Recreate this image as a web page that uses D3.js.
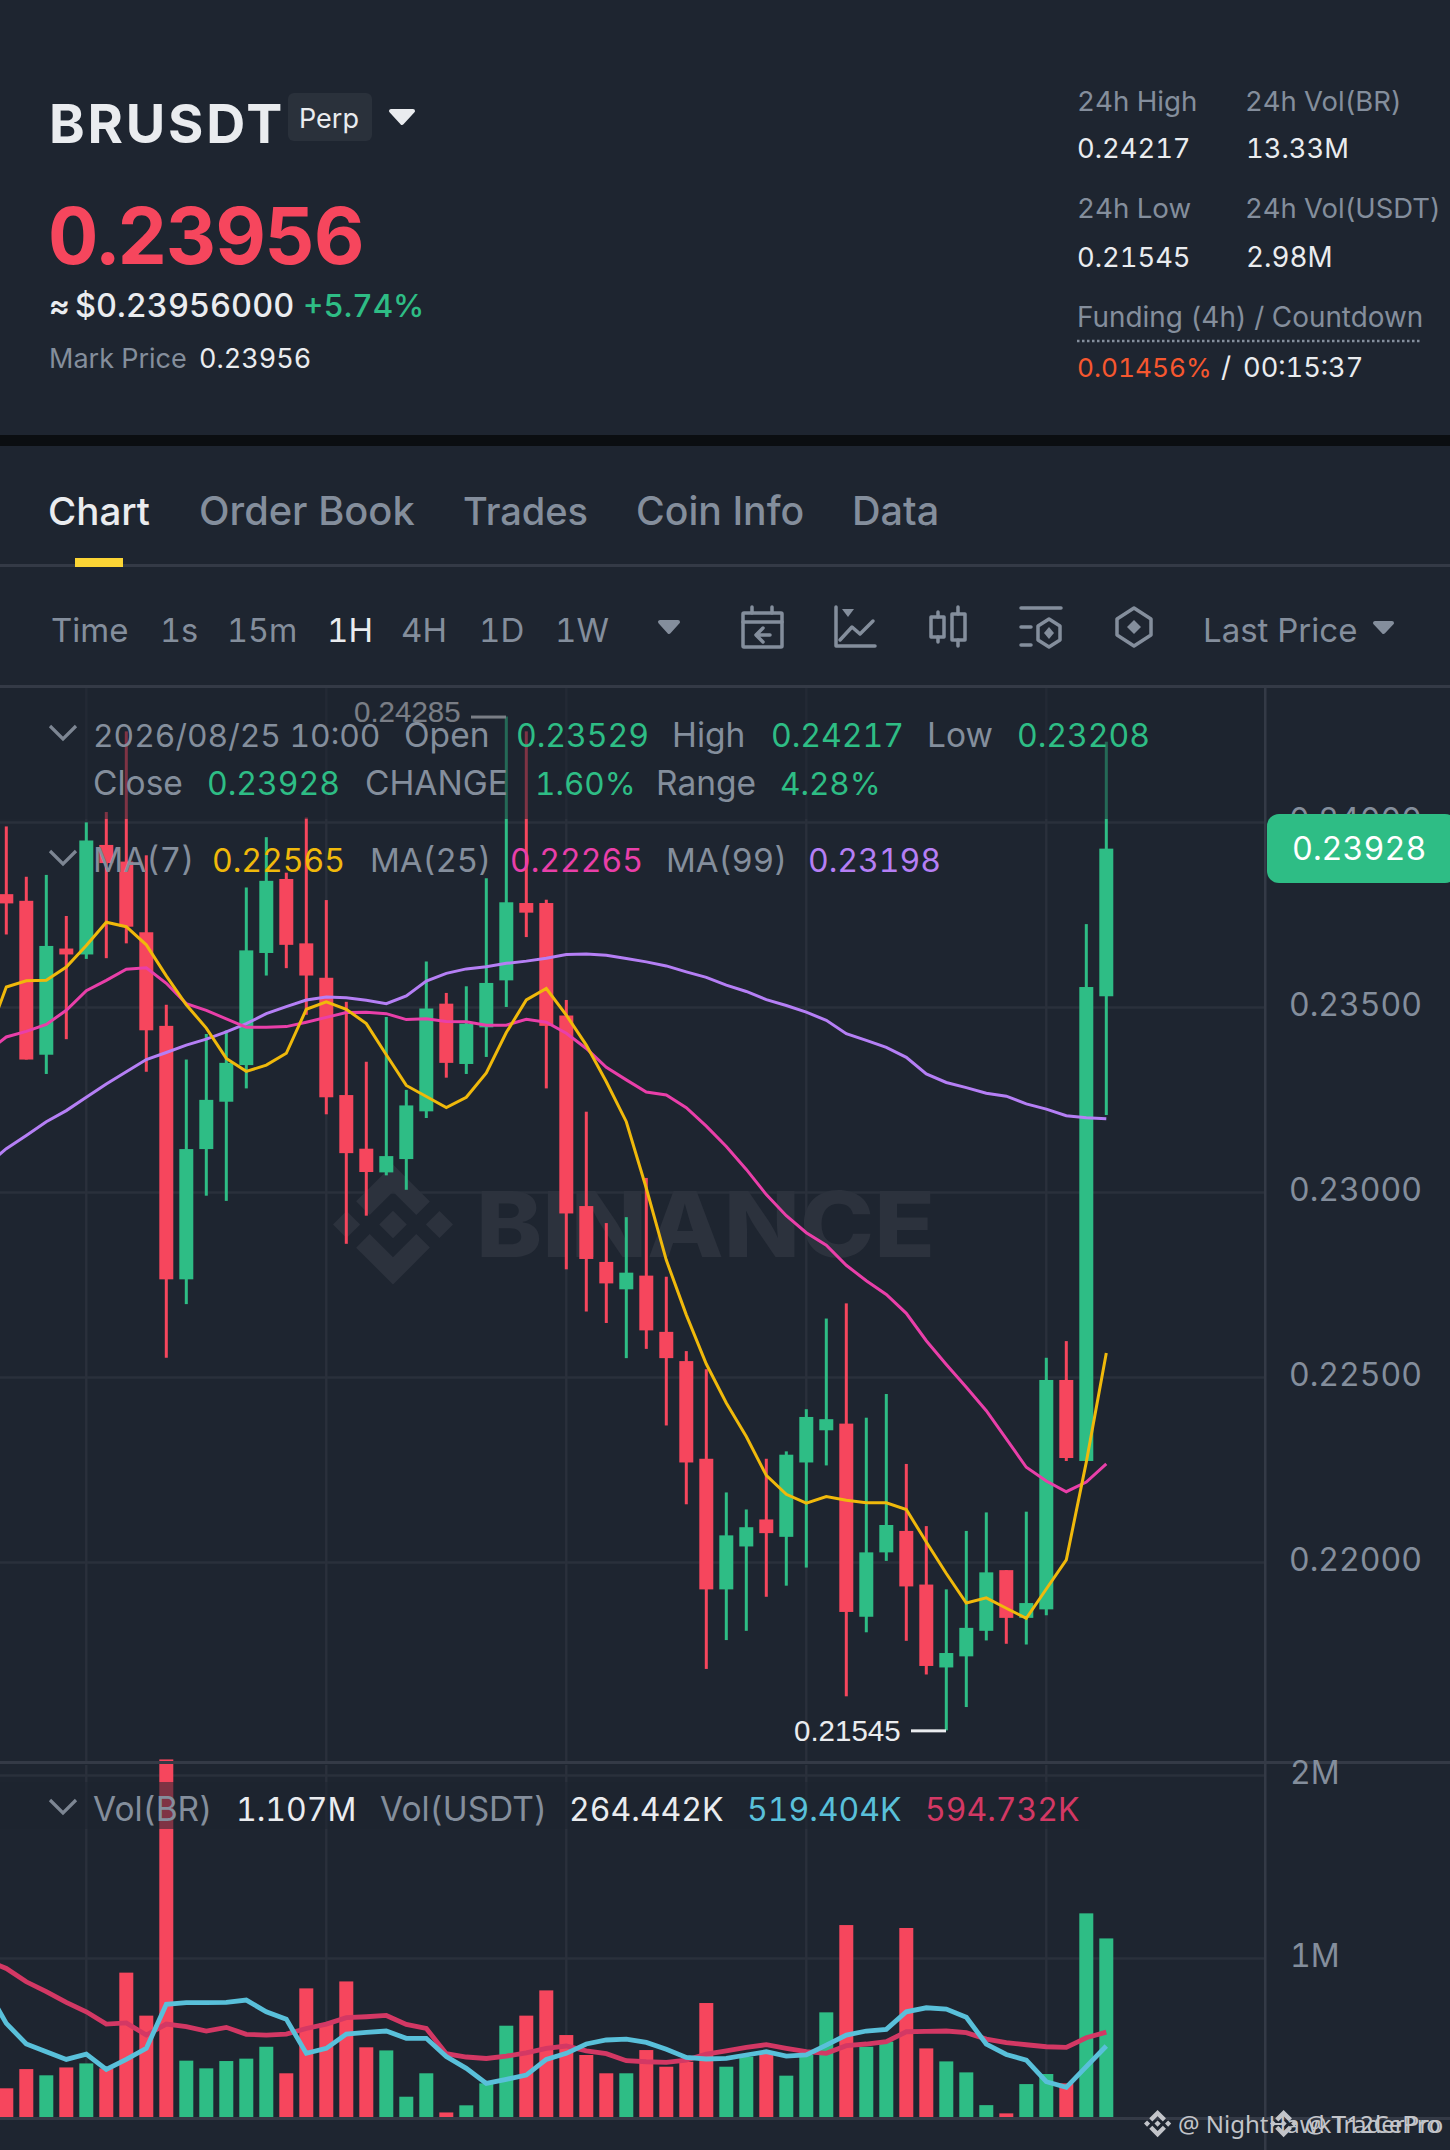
<!DOCTYPE html>
<html>
<head>
<meta charset="utf-8">
<title>BRUSDT Perp</title>
<script src="https://cdn.jsdelivr.net/npm/d3@7"></script>
<style>
    html, body { margin: 0; padding: 0; background: #1e2530; }
    #chart { width: 1450px; height: 2150px; overflow: hidden; }
    text { font-family: Inter, "Noto Sans", sans-serif; font-feature-settings: "tnum"; }
</style>
</head>
<body>
<div id="chart"></div>
<script>
// candles, oldest first
const opens = [
    0.23805, 0.23787, 0.23371, 0.23658, 0.23642, 0.23938, 0.23893, 0.23702, 0.23449, 0.22764,
    0.23116, 0.23244, 0.23343, 0.23646, 0.23846, 0.23672, 0.23579, 0.23262, 0.23117, 0.23053,
    0.23089, 0.23218, 0.23509, 0.23346, 0.23445, 0.23572, 0.23781, 0.23781, 0.23477, 0.22962,
    0.22811, 0.22737, 0.22774, 0.22622, 0.22543, 0.22279, 0.21926, 0.22042, 0.22115, 0.22068,
    0.22269, 0.22356, 0.22374, 0.21852, 0.22026, 0.22084, 0.21939, 0.21715, 0.21745, 0.21814,
    0.21978, 0.21849, 0.21872, 0.22492, 0.22273, 0.23529
];
const highs = [
    0.23988, 0.23852, 0.23857, 0.23746, 0.23999, 0.24027, 0.24245, 0.23910, 0.23506, 0.23358,
    0.23427, 0.23437, 0.23823, 0.23959, 0.23863, 0.24012, 0.23789, 0.23514, 0.23352, 0.23473,
    0.23276, 0.23623, 0.23538, 0.23556, 0.23848, 0.24285, 0.24245, 0.23790, 0.23519, 0.23217,
    0.22916, 0.22932, 0.23038, 0.22771, 0.22570, 0.22521, 0.22188, 0.22142, 0.22279, 0.22299,
    0.22413, 0.22658, 0.22699, 0.22390, 0.22454, 0.22265, 0.22097, 0.21926, 0.22084, 0.22134,
    0.21978, 0.22136, 0.22552, 0.22597, 0.23724, 0.24217
];
const lows = [
    0.23696, 0.23358, 0.23319, 0.23413, 0.23630, 0.23632, 0.23672, 0.23325, 0.22552, 0.22697,
    0.22990, 0.22976, 0.23280, 0.23585, 0.23605, 0.23479, 0.23210, 0.22860, 0.22936, 0.23045,
    0.23006, 0.23200, 0.23309, 0.23319, 0.23365, 0.23500, 0.23689, 0.23280, 0.22791, 0.22677,
    0.22646, 0.22551, 0.22576, 0.22369, 0.22156, 0.21711, 0.21789, 0.21814, 0.21906, 0.21936,
    0.21985, 0.22261, 0.21637, 0.21810, 0.22003, 0.21787, 0.21696, 0.21545, 0.21608, 0.21788,
    0.21779, 0.21777, 0.21856, 0.22273, 0.22273, 0.23208
];
const closes = [
    0.23780, 0.23358, 0.23665, 0.23642, 0.23950, 0.23889, 0.23717, 0.23437, 0.22764, 0.23116,
    0.23249, 0.23349, 0.23653, 0.23841, 0.23668, 0.23585, 0.23256, 0.23105, 0.23054, 0.23097,
    0.23234, 0.23496, 0.23349, 0.23455, 0.23565, 0.23783, 0.23755, 0.23449, 0.22942, 0.22819,
    0.22753, 0.22782, 0.22626, 0.22551, 0.22269, 0.21926, 0.22072, 0.22094, 0.22078, 0.22290,
    0.22392, 0.22386, 0.21865, 0.22026, 0.22100, 0.21934, 0.21719, 0.21754, 0.21822, 0.21972,
    0.21849, 0.21889, 0.22492, 0.22281, 0.23554, 0.23928
];
const volumes = [
    288, 393, 359, 402, 424, 397, 920, 685, 2085, 439,
    397, 437, 450, 515, 370, 834, 643, 872, 512, 495,
    242, 370, 156, 195, 315, 630, 685, 823, 579, 470,
    370, 370, 497, 406, 433, 754, 406, 461, 479, 357,
    470, 703, 1180, 515, 543, 1164, 506, 435, 375, 196,
    151, 311, 366, 315, 1244, 1107
];

// the moving averages start one candle before the first visible one
const ma7 = [
    0.23409, 0.23554, 0.23571, 0.23572, 0.23608, 0.23666, 0.23729, 0.23717, 0.23668, 0.23584, 0.23506,
    0.23443, 0.23361, 0.23326, 0.23343, 0.23375, 0.23494, 0.23514, 0.23494, 0.23455, 0.23371,
    0.23288, 0.23258, 0.23228, 0.23256, 0.23322, 0.23431, 0.23519, 0.23550, 0.23478, 0.23397,
    0.23298, 0.23190, 0.23010, 0.22816, 0.22668, 0.22535, 0.22430, 0.22339, 0.22234, 0.22183,
    0.22159, 0.22177, 0.22167, 0.22160, 0.22160, 0.22142, 0.22054, 0.21969, 0.21889, 0.21903,
    0.21875, 0.21848, 0.21927, 0.22006, 0.22270, 0.22565
];
const ma25 = [
    0.23377, 0.23419, 0.23434, 0.23453, 0.23491, 0.23544, 0.23572, 0.23602, 0.23606, 0.23564, 0.23509,
    0.23491, 0.23468, 0.23445, 0.23445, 0.23447, 0.23459, 0.23472, 0.23485, 0.23486, 0.23482,
    0.23466, 0.23468, 0.23461, 0.23460, 0.23451, 0.23451, 0.23467, 0.23459, 0.23429, 0.23388,
    0.23337, 0.23303, 0.23270, 0.23262, 0.23228, 0.23178, 0.23123, 0.23061, 0.22993, 0.22936,
    0.22890, 0.22856, 0.22802, 0.22760, 0.22723, 0.22672, 0.22598, 0.22534, 0.22472, 0.22409,
    0.22333, 0.22256, 0.22219, 0.22190, 0.22216, 0.22265
];
const ma99 = [
    0.23071, 0.23117, 0.23153, 0.23190, 0.23220, 0.23256, 0.23292, 0.23325, 0.23358, 0.23377, 0.23397,
    0.23413, 0.23433, 0.23455, 0.23482, 0.23501, 0.23519, 0.23527, 0.23525, 0.23518, 0.23509,
    0.23530, 0.23570, 0.23591, 0.23603, 0.23609, 0.23618, 0.23624, 0.23632, 0.23642, 0.23643,
    0.23640, 0.23631, 0.23622, 0.23611, 0.23595, 0.23580, 0.23559, 0.23542, 0.23520, 0.23504,
    0.23486, 0.23464, 0.23428, 0.23410, 0.23391, 0.23364, 0.23319, 0.23296, 0.23282, 0.23267,
    0.23259, 0.23238, 0.23224, 0.23206, 0.23201, 0.23198
];
const volMaShort = [
    834, 643, 530, 488, 446, 475, 391, 446, 506, 747, 756,
    756, 757, 770, 706, 666, 479, 506, 584, 594, 601,
    561, 561, 461, 397, 315, 337, 360, 446, 479, 530,
    552, 557, 539, 501, 457, 448, 451, 470, 488, 464,
    470, 524, 579, 601, 610, 706, 728, 721, 676, 530,
    473, 442, 324, 293, 406, 519
];
const volMaLong = [
    989, 943, 870, 816, 757, 706, 639, 645, 579, 639, 625,
    601, 621, 583, 579, 584, 615, 639, 674, 679, 686,
    637, 615, 477, 459, 451, 464, 482, 506, 519, 493,
    477, 439, 433, 430, 442, 475, 493, 512, 526, 506,
    488, 479, 521, 530, 543, 597, 599, 601, 592, 557,
    537, 526, 515, 512, 564, 595
];

const priceTicks = [0.22, 0.225, 0.23, 0.235, 0.24];
const volTicks = [1000, 2000];
const timeGrid = [4, 16, 28, 40, 52];

const bg_color = '#1e2530';
const up_color = '#2ebd85';
const down_color = '#f6465d';
const grey = '#848e9c';
const white = '#eaecef';
const grid_color = '#2a303b';
const line_color = '#343a46';
const axis_x = 1265;
const binance_logo = 'M9.785 13.449L16 7.236l6.215 6.215 3.615-3.615L16 0 6.169 9.831z' +
    'M0 16l3.616-3.616L7.232 16l-3.616 3.616z' +
    'M9.785 18.551L16 24.764l6.215-6.215 3.617 3.613L16 32 6.169 22.169z' +
    'M24.768 16l3.616-3.616L32 16l-3.616 3.616z' +
    'M19.668 16L16 12.332 12.334 15.998 16 19.668z';

const svg = d3.select('#chart')
    .append('svg')
    .attr('width', 1450)
    .attr('height', 2150)
    .style('display', 'block');

svg.append('rect').attr('width', 1450).attr('height', 2150).attr('fill', bg_color);

function label(parent, x, y, str, size, fill, weight){
    return parent.append('text')
        .attr('x', x)
        .attr('y', y)
        .attr('font-size', size)
        .attr('font-weight', weight || 400)
        .attr('fill', fill)
        .text(str);
}

function triangle(parent, x0, x1, y0, y1, fill){
    const r = 2;
    parent.append('path')
        .attr('d', 'M' + (x0 + r) + ' ' + (y0 + r) + 'L' + (x1 - r) + ' ' + (y0 + r) + 'L' + ((x0 + x1) / 2) + ' ' + (y1 - r) + 'Z')
        .attr('fill', fill)
        .attr('stroke', fill)
        .attr('stroke-width', r * 2)
        .attr('stroke-linejoin', 'round');
}

// scales
const x = d3.scaleLinear().domain([0, 55]).range([6.3, 1106.3]);
const y = d3.scaleLinear().domain([0.22, 0.24]).range([1562, 822]);
const volY = d3.scaleLinear().domain([0, 2000]).range([2141, 1775]);

// ---- header ----
const head = svg.append('g');
label(head, 49, 143, 'BRUSDT', 54, white, 700).attr('letter-spacing', 2.8);
head.append('rect').attr('x', 288).attr('y', 93).attr('width', 84).attr('height', 48).attr('rx', 6).attr('fill', '#2a313b');
label(head, 299, 128, 'Perp', 27, white);
triangle(head, 389, 415, 109, 125, white);
label(head, 48, 264, '0.23956', 78, down_color, 700).attr('letter-spacing', -1.2);
label(head, 49, 317, '≈', 32, white, 600);
label(head, 75, 317, '$0.23956000', 32.5, white, 500);
label(head, 303, 317, '+5.74%', 31.5, up_color, 500);
label(head, 49, 368, 'Mark Price', 27, grey);
label(head, 199, 368, '0.23956', 27, white);

label(head, 1077, 111, '24h High', 27.7, grey);
label(head, 1245, 111, '24h Vol(BR)', 27.4, grey);
label(head, 1077, 158, '0.24217', 27.3, white);
label(head, 1246, 158, '13.33M', 27.3, white);
label(head, 1077, 218, '24h Low', 27.7, grey);
label(head, 1245, 218, '24h Vol(USDT)', 27.4, grey);
label(head, 1077, 267, '0.21545', 27.3, white);
label(head, 1246, 267, '2.98M', 27.8, white);
label(head, 1077, 327, 'Funding (4h) / Countdown', 27.9, grey);
head.append('line').attr('x1', 1077).attr('x2', 1422).attr('y1', 341).attr('y2', 341)
    .attr('stroke', grey).attr('stroke-width', 2.5).attr('stroke-dasharray', '2.5 2.5');
label(head, 1077, 377, '0.01456%', 26.2, '#f6572f');
label(head, 1221, 377, '/', 28, white);
label(head, 1243, 377, '00:15:37', 27.2, white);

svg.append('rect').attr('x', 0).attr('y', 435).attr('width', 1450).attr('height', 11).attr('fill', '#0b0e11');

// ---- tabs ----
const tabs = svg.append('g');
label(tabs, 48, 525, 'Chart', 38.5, white, 500);
label(tabs, 199, 525, 'Order Book', 39.8, grey, 500);
label(tabs, 463, 525, 'Trades', 38, grey, 500);
label(tabs, 636, 525, 'Coin Info', 39.2, grey, 500);
label(tabs, 852, 525, 'Data', 39.6, grey, 500);
tabs.append('rect').attr('x', 0).attr('y', 564).attr('width', 1450).attr('height', 3).attr('fill', line_color);
tabs.append('rect').attr('x', 75).attr('y', 558).attr('width', 48).attr('height', 9).attr('fill', '#fcd535');

// ---- toolbar ----
const tools = svg.append('g');
label(tools, 51, 642, 'Time', 33, grey);
label(tools, 160, 642, '1s', 32.5, grey);
label(tools, 227, 642, '15m', 32.3, grey);
label(tools, 327, 642, '1H', 33, white);
label(tools, 401, 642, '4H', 33, grey);
label(tools, 479, 642, '1D', 33, grey);
label(tools, 555, 642, '1W', 33, grey);
triangle(tools, 658, 680, 620, 634, grey);
label(tools, 1203, 642, 'Last Price', 33, grey);
triangle(tools, 1373, 1394, 621, 634, grey);

const icons = tools.append('g').attr('fill', 'none').attr('stroke', grey).attr('stroke-width', 3.5)
    .attr('stroke-linejoin', 'round').attr('stroke-linecap', 'round');
// calendar
icons.append('rect').attr('x', 743).attr('y', 613).attr('width', 39).attr('height', 34).attr('rx', 1);
icons.append('path').attr('d', 'M743 622H782M752 607V613M772 607V613M770 635H757M763 628L756 635L763 642');
// line chart
icons.append('path').attr('d', 'M836 607V646H875M840 640L852 627L860 634L873 621');
icons.append('path').attr('d', 'M842 609H854L848 617Z').attr('fill', grey).attr('stroke', 'none');
// candles
icons.append('rect').attr('x', 931).attr('y', 617).attr('width', 13).attr('height', 20);
icons.append('rect').attr('x', 952).attr('y', 614).attr('width', 13).attr('height', 26);
icons.append('path').attr('d', 'M938 612V617M938 637V642M958 607V614M958 640V646');
// indicators
icons.append('path').attr('d', 'M1021 608H1061M1021 627H1031M1021 645H1031');
icons.append('path').attr('d', 'M1049 619L1060 626V640L1049 647L1038 640V626Z');
icons.append('path').attr('d', 'M1049 627L1054 633L1049 639L1044 633Z').attr('fill', grey).attr('stroke', 'none');
// hexagon
icons.append('path').attr('d', 'M1134 608L1151 619V635L1134 646L1117 635V619Z');
icons.append('path').attr('d', 'M1134 620L1141 627L1134 634L1127 627Z').attr('fill', grey).attr('stroke', 'none');

svg.append('rect').attr('x', 0).attr('y', 685).attr('width', 1450).attr('height', 3).attr('fill', line_color);

// ---- grids ----
const grid = svg.append('g');
const priceGrid = grid.append('g')
    .call(d3.axisRight(y).tickValues(priceTicks).tickSize(axis_x).tickFormat(''));
const volGrid = grid.append('g')
    .call(d3.axisRight(volY).tickValues(volTicks).tickSize(axis_x).tickFormat(''));
grid.selectAll('.domain').remove();
grid.selectAll('line').attr('stroke', grid_color).attr('stroke-width', 2.5);

grid.selectAll('.vgrid_price')
    .data(timeGrid)
    .enter()
    .append('line')
    .attr('x1', function(d){ return x(d); })
    .attr('x2', function(d){ return x(d); })
    .attr('y1', 688)
    .attr('y2', 1762)
    .attr('stroke', grid_color)
    .attr('stroke-width', 2.5);
grid.selectAll('.vgrid_vol')
    .data(timeGrid)
    .enter()
    .append('line')
    .attr('x1', function(d){ return x(d); })
    .attr('x2', function(d){ return x(d); })
    .attr('y1', 1765)
    .attr('y2', 2117)
    .attr('stroke', grid_color)
    .attr('stroke-width', 2.5);

// ---- watermark ----
const mark = svg.append('g').attr('fill', '#2c323d');
mark.append('path').attr('d', binance_logo).attr('transform', 'translate(333,1164.5) scale(3.75)');
mark.append('text')
    .attr('x', 476)
    .attr('y', 1257)
    .attr('font-size', 91)
    .attr('font-weight', 800)
    .attr('textLength', 459)
    .attr('lengthAdjust', 'spacingAndGlyphs')
    .text('BINANCE');

// ---- candles ----
const candle_width = 14;
const wick_width = 3;
const candle = svg.append('g')
    .selectAll('.candle')
    .data(opens)
    .enter()
    .append('g')
    .attr('class', 'candle')
    .attr('fill', function(d, i){ return closes[i] >= d ? up_color : down_color; });
candle.append('rect')
    .attr('x', function(d, i){ return x(i) - wick_width / 2; })
    .attr('width', wick_width)
    .attr('y', function(d, i){ return y(highs[i]); })
    .attr('height', function(d, i){ return y(lows[i]) - y(highs[i]); });
candle.append('rect')
    .attr('x', function(d, i){ return x(i) - candle_width / 2; })
    .attr('width', candle_width)
    .attr('y', function(d, i){ return y(Math.max(d, closes[i])); })
    .attr('height', function(d, i){ return Math.max(1, Math.abs(y(d) - y(closes[i]))); });

// ---- moving averages ----
const maLine = d3.line()
    .x(function(d, i){ return x(i - 1); })
    .y(function(d){ return y(d); });
[[ma99, '#b57ff5'], [ma25, '#e93fa9'], [ma7, '#f0b90b']].forEach(function(m){
    svg.append('path')
        .attr('d', maLine(m[0]))
        .attr('fill', 'none')
        .attr('stroke', m[1])
        .attr('stroke-width', 3);
});

// ---- high / low marks ----
const hiMark = svg.append('g');
label(hiMark, 354, 722, '0.24285', 29.5, white).style('font-family', '"Liberation Sans"');
hiMark.append('rect').attr('x', 471).attr('y', y(0.24285) - 1).attr('width', 35).attr('height', 3).attr('fill', white);
const loMark = svg.append('g');
label(loMark, 794, 1741, '0.21545', 29.5, white).style('font-family', '"Liberation Sans"');
loMark.append('rect').attr('x', 911).attr('y', y(0.21545) - 1).attr('width', 35).attr('height', 3).attr('fill', white);

// the legend rows sit on a half see-through strip
svg.append('rect').attr('x', 0).attr('y', 688).attr('width', axis_x).attr('height', 131)
    .attr('fill', bg_color).attr('opacity', 0.55);

// ---- volume pane ----
svg.append('clipPath').attr('id', 'vol_clip')
    .append('rect').attr('x', 0).attr('y', 1750).attr('width', axis_x).attr('height', 367);
const volPane = svg.append('g').attr('clip-path', 'url(#vol_clip)');
volPane.selectAll('.vol_bar')
    .data(volumes)
    .enter()
    .append('rect')
    .attr('class', 'vol_bar')
    .attr('x', function(d, i){ return x(i) - candle_width / 2; })
    .attr('width', candle_width)
    .attr('y', function(d){ return volY(d); })
    .attr('height', function(d){ return volY(0) - volY(d); })
    .attr('fill', function(d, i){ return closes[i] >= opens[i] ? up_color : down_color; });
const volLine = d3.line()
    .x(function(d, i){ return x(i - 1); })
    .y(function(d){ return volY(d); });
[[volMaLong, '#d33864'], [volMaShort, '#59c0da']].forEach(function(m){
    volPane.append('path')
        .attr('d', volLine(m[0]))
        .attr('fill', 'none')
        .attr('stroke', m[1])
        .attr('stroke-width', 4.8);
});
svg.append('rect').attr('x', 0).attr('y', 1782).attr('width', 1090).attr('height', 47)
    .attr('fill', bg_color).attr('opacity', 0.55);

// frame lines
svg.append('rect').attr('x', 0).attr('y', 1761).attr('width', 1450).attr('height', 3).attr('fill', line_color);
svg.append('rect').attr('x', 0).attr('y', 2117).attr('width', 1450).attr('height', 3).attr('fill', line_color);
svg.append('rect').attr('x', axis_x - 1).attr('y', 688).attr('width', 2.5).attr('height', 1462).attr('fill', line_color);

// ---- axes ----
const priceAxis = svg.append('g')
    .attr('transform', 'translate(1289,0)')
    .call(d3.axisRight(y).tickValues(priceTicks).tickSize(0).tickPadding(0)
        .tickFormat(function(d){ return d.toFixed(5); }));
const volAxis = svg.append('g')
    .attr('transform', 'translate(1290,0)')
    .call(d3.axisRight(volY).tickValues(volTicks).tickSize(0).tickPadding(0)
        .tickFormat(function(d){ return (d / 1000) + 'M'; }));
[priceAxis, volAxis].forEach(function(a){
    a.select('.domain').remove();
    a.selectAll('text')
        .attr('font-size', 32)
        .attr('fill', grey)
        .attr('dy', 8)
        .style('font-family', 'Inter');
});

// last price tag
svg.append('rect').attr('x', 1267).attr('y', 814).attr('width', 190).attr('height', 69).attr('rx', 12).attr('fill', up_color);
label(svg, 1292, 860, closes[closes.length - 1].toFixed(5), 32.3, '#ffffff');

// ---- legends ----
function chevron(parent, x0, y0){
    parent.append('path')
        .attr('d', 'M' + x0 + ' ' + y0 + 'L' + (x0 + 13) + ' ' + (y0 + 13) + 'L' + (x0 + 26) + ' ' + y0)
        .attr('fill', 'none')
        .attr('stroke', '#7d8693')
        .attr('stroke-width', 3.2);
}
const legend = svg.append('g');
chevron(legend, 50, 726);
label(legend, 93, 747, '2026/08/25 10:00', 31.8, grey);
label(legend, 404, 747, 'Open', 33.5, grey);
label(legend, 516, 747, '0.23529', 32, up_color);
label(legend, 672, 747, 'High', 33.5, grey);
label(legend, 771, 747, '0.24217', 32, up_color);
label(legend, 927, 747, 'Low', 33.5, grey);
label(legend, 1017, 747, '0.23208', 32, up_color);
label(legend, 93, 795, 'Close', 33.5, grey);
label(legend, 207, 795, '0.23928', 32, up_color);
label(legend, 365, 795, 'CHANGE', 33.5, grey);
label(legend, 535, 795, '1.60%', 31.5, up_color);
label(legend, 656, 795, 'Range', 33.5, grey);
label(legend, 780, 795, '4.28%', 31.5, up_color);
chevron(legend, 50, 851);
label(legend, 93, 872, 'MA(7)', 33.5, grey);
label(legend, 212, 872, '0.22565', 32, '#f0b90b');
label(legend, 370, 872, 'MA(25)', 33, grey);
label(legend, 510, 872, '0.22265', 32, '#e93fa9');
label(legend, 666, 872, 'MA(99)', 33, grey);
label(legend, 808, 872, '0.23198', 32, '#b57ff5');
chevron(legend, 50, 1800);
label(legend, 93, 1821, 'Vol(BR)', 33.5, grey);
label(legend, 236, 1821, '1.107M', 32, white);
label(legend, 380, 1821, 'Vol(USDT)', 33.5, grey);
label(legend, 569, 1821, '264.442K', 32, white);
label(legend, 747, 1821, '519.404K', 32, '#59c0da');
label(legend, 925, 1821, '594.732K', 32, '#d33864');

// ---- share marks bottom right ----
const share = svg.append('g').attr('fill', '#d4d6da').style('opacity', 0.9);
share.append('path').attr('d', binance_logo).attr('transform', 'translate(1144,2110) scale(0.85)');
label(share, 1178, 2133, '@ NightHawkTraderPro', 24, '#d4d6da').style('font-family', '"Noto Sans"');
share.append('path').attr('d', binance_logo).attr('transform', 'translate(1270,2110) scale(0.85)');
label(share, 1305, 2133, '@ T12CePro', 24, '#d4d6da').style('font-family', '"Noto Sans"');
</script>
</body>
</html>
